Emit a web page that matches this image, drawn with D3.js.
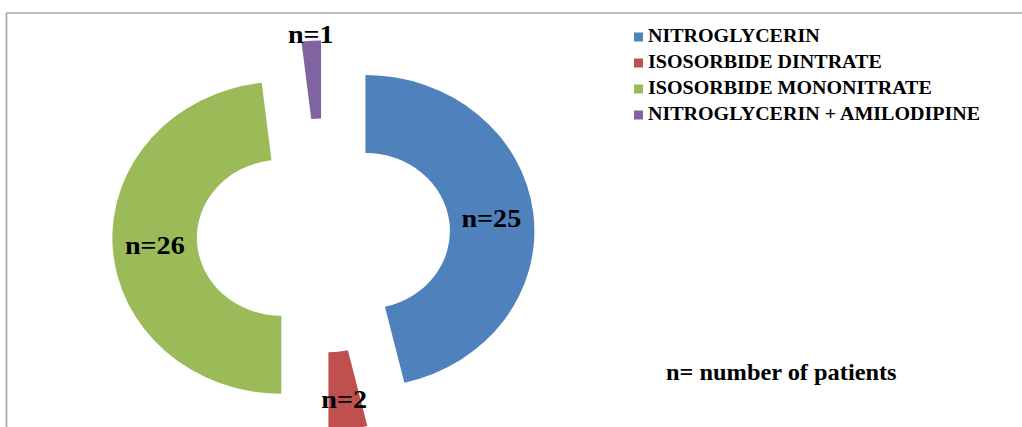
<!DOCTYPE html>
<html>
<head>
<meta charset="utf-8">
<script src="https://cdn.jsdelivr.net/npm/d3@7"></script>
<style>
  html, body { margin: 0; padding: 0; background: #fff; }
  svg { display: block; }
  text { font-family: "Liberation Serif", "Times New Roman", serif; font-weight: bold; fill: #000; }
</style>
</head>
<body>
<svg id="chart" width="1022" height="427"></svg>
<script>
// Nitrate therapy groups and patient counts
const categories = [
  "NITROGLYCERIN",
  "ISOSORBIDE DINTRATE",
  "ISOSORBIDE MONONITRATE",
  "NITROGLYCERIN + AMILODIPINE"
];
const patients = [25, 2, 26, 1];
const colors = ["#4F81BD", "#C0504D", "#9BBB59", "#8064A2"];
const footnote = "n= number of patients";

const W = 1022, H = 427;
const svg = d3.select("#chart");

// Frame (top and left edges of the chart box)
svg.append("line").attr("x1", 6.5).attr("y1", 13).attr("x2", W).attr("y2", 13)
  .attr("stroke", "#a6a6a6").attr("stroke-width", 1.6);
svg.append("line").attr("x1", 6.5).attr("y1", 13).attr("x2", 6.5).attr("y2", H)
  .attr("stroke", "#a6a6a6").attr("stroke-width", 1.6);

// Exploded doughnut geometry (slightly wider than tall)
const cx = 323.5, cy = 235.5;
const sx = 1.083;            // horizontal stretch of the plot area
const outerR = 156, innerR = 78;
const explode = 39;

const pie = d3.pie().sort(null).value(d => d);
const arcs = pie(patients);
const arc = d3.arc().innerRadius(innerR).outerRadius(outerR);

const mid = d => (d.startAngle + d.endAngle) / 2;
const sliceCenter = d => [cx + Math.sin(mid(d)) * explode * sx, cy - Math.cos(mid(d)) * explode];

const plot = svg.append("g");
plot.selectAll("path.slice")
  .data(arcs)
  .join("path")
  .attr("class", "slice")
  .attr("d", arc)
  .attr("fill", (d, i) => colors[i])
  .attr("transform", d => {
    const [x, y] = sliceCenter(d);
    return `translate(${x},${y}) scale(${sx},1)`;
  });

// Data labels: on the ring for large slices, nudged outward for thin ones
function labelRadius(d) {
  const share = d.value / d3.sum(patients);
  if (share < 0.025) return outerR + 7;      // outside end
  if (share < 0.05) return (innerR + outerR) / 2 + 9;
  return (innerR + outerR) / 2;
}
plot.selectAll("text.val")
  .data(arcs)
  .join("text")
  .attr("class", "val")
  .attr("text-anchor", "middle")
  .attr("dy", "0.35em")
  .style("font-size", "26px")
  .attr("transform", d => {
    const [x0, y0] = sliceCenter(d);
    const r = labelRadius(d);
    const x = x0 + Math.sin(mid(d)) * r * sx;
    const y = y0 - Math.cos(mid(d)) * r;
    return `translate(${x},${y}) scale(${sx},1)`;
  })
  .text(d => "n=" + d.value);

// Legend
const legend = svg.append("g");
const rowY = d3.scaleLinear().domain([0, 1]).range([42, 68]);
categories.forEach((c, i) => {
  const y = rowY(i);
  legend.append("rect")
    .attr("x", 634).attr("y", y - 9.5).attr("width", 9).attr("height", 9)
    .attr("fill", colors[i]);
  legend.append("text")
    .attr("transform", `translate(648,${y}) scale(${sx},1)`)
    .style("font-size", "18.5px")
    .text(c);
});

// Footnote
svg.append("text")
  .attr("transform", `translate(666,380) scale(${sx},1)`)
  .style("font-size", "22.5px")
  .text(footnote);
</script>
</body>
</html>
